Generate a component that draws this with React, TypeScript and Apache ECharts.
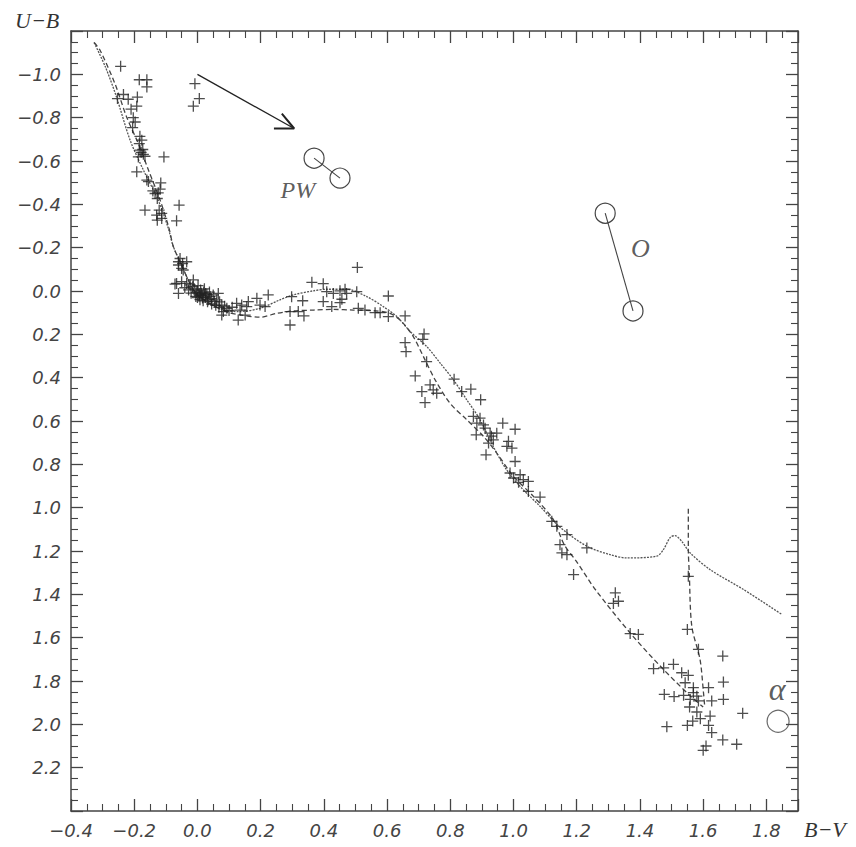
import React, { useEffect, useRef } from "react";
import * as echarts from "echarts";

// ---- data (B-V, U-B) ----
const stars: [number, number][] = [
  [-0.243, -1.037], [-0.184, -0.975], [-0.16, -0.975], [-0.16, -0.942],
  [-0.253, -0.888], [-0.234, -0.907], [-0.219, -0.885], [-0.19, -0.895],
  [-0.192, -0.853], [-0.21, -0.839], [-0.203, -0.8], [-0.197, -0.78], [-0.205, -0.754],
  [-0.182, -0.714], [-0.176, -0.696], [-0.184, -0.68],
  [-0.182, -0.65], [-0.171, -0.631], [-0.187, -0.619], [-0.173, -0.653], [-0.166, -0.622], [-0.178, -0.64],
  [-0.106, -0.619], [-0.192, -0.55], [-0.16, -0.512], [-0.155, -0.505],
  [-0.141, -0.462], [-0.124, -0.453], [-0.116, -0.499], [-0.134, -0.45], [-0.127, -0.427], [-0.118, -0.47],
  [-0.166, -0.373], [-0.129, -0.35], [-0.113, -0.335], [-0.113, -0.358], [-0.121, -0.373], [-0.127, -0.327],
  [-0.058, -0.396], [-0.066, -0.324],
  [-0.055, -0.15], [-0.047, -0.127], [-0.05, -0.104], [-0.06, -0.12],
  [-0.06, -0.135], [-0.034, -0.135], [-0.045, -0.097],
  [-0.066, -0.035], [-0.05, -0.043], [-0.034, -0.035], [-0.013, -0.051], [-0.023, -0.028], [-0.06, 0.011], [-0.071, -0.032],
  [-0.01, -0.01], [0.0, 0.0], [0.005, 0.015], [0.01, -0.005], [0.015, 0.02], [0.02, 0.005], [-0.005, 0.025],
  [0.025, 0.03], [0.008, 0.04], [0.03, 0.015], [-0.02, 0.01], [0.0, 0.03], [0.012, 0.01], [0.018, 0.045],
  [0.035, 0.04], [0.04, 0.025], [-0.015, -0.02], [0.022, -0.01],
  [-0.004, 0.008], [0.006, 0.022], [0.016, 0.032], [0.026, 0.012], [0.032, 0.05], [0.044, 0.035],
  [0.054, 0.048], [0.058, 0.066], [0.068, 0.075], [0.086, 0.07], [0.1, 0.09], [0.11, 0.075],
  [-0.028, -0.005], [-0.04, -0.015], [0.002, -0.025], [0.038, 0.005],
  [0.05, 0.018], [0.061, 0.041], [0.066, 0.011], [0.077, 0.065], [0.093, 0.08], [0.082, 0.095], [0.077, 0.111],
  [0.045, 0.06], [0.07, 0.05],
  [0.124, 0.057], [0.14, 0.065], [0.135, 0.088], [0.156, 0.072], [0.161, 0.049],
  [0.129, 0.134], [0.151, 0.111],
  [0.188, 0.034], [0.198, 0.065], [0.214, 0.072], [0.224, 0.018],
  [0.298, 0.026], [0.333, 0.045], [0.293, 0.095], [0.319, 0.095], [0.337, 0.115], [0.293, 0.157],
  [0.362, -0.04], [0.398, -0.034],
  [0.409, 0.003], [0.43, 0.011], [0.451, -0.001], [0.467, -0.008], [0.472, 0.011], [0.504, 0.003],
  [0.398, 0.049], [0.451, 0.054], [0.457, 0.038],
  [0.506, -0.109], [0.604, 0.023],
  [0.425, 0.072], [0.509, 0.08], [0.53, 0.088], [0.562, 0.1], [0.578, 0.1], [0.604, 0.118],
  [0.657, 0.115], [0.717, 0.198], [0.713, 0.223], [0.657, 0.238], [0.66, 0.28],
  [0.725, 0.326], [0.689, 0.392],
  [0.736, 0.433], [0.746, 0.456], [0.757, 0.472], [0.71, 0.464], [0.72, 0.515],
  [0.812, 0.407], [0.836, 0.464], [0.865, 0.453], [0.896, 0.502],
  [0.873, 0.579], [0.894, 0.587], [0.884, 0.61],
  [0.91, 0.633], [0.926, 0.656], [0.947, 0.656], [0.936, 0.687], [0.921, 0.702], [0.913, 0.756],
  [0.882, 0.664], [0.905, 0.618], [0.93, 0.67],
  [0.966, 0.61], [1.005, 0.638],
  [0.984, 0.694], [0.995, 0.725], [0.979, 0.717], [1.005, 0.787],
  [0.989, 0.84], [1.0, 0.863], [1.021, 0.848], [1.031, 0.871], [1.047, 0.879], [1.016, 0.883],
  [1.047, 0.925], [1.084, 0.951],
  [1.121, 1.063], [1.137, 1.086],
  [1.169, 1.124], [1.147, 1.171], [1.153, 1.209], [1.169, 1.217],
  [1.232, 1.186], [1.19, 1.309],
  [1.322, 1.393], [1.332, 1.432], [1.316, 1.442],
  [1.369, 1.581], [1.395, 1.585],
  [1.553, 1.317], [1.55, 1.562], [1.585, 1.654], [1.662, 1.685], [1.664, 1.805],
  [1.443, 1.743], [1.475, 1.739], [1.506, 1.723],
  [1.532, 1.762], [1.553, 1.774],
  [1.543, 1.808], [1.569, 1.831], [1.617, 1.831],
  [1.477, 1.862], [1.508, 1.872], [1.538, 1.866], [1.569, 1.854], [1.58, 1.87], [1.559, 1.885],
  [1.585, 1.892], [1.627, 1.892], [1.664, 1.885],
  [1.557, 1.92], [1.58, 1.943], [1.622, 1.962], [1.725, 1.949],
  [1.591, 1.974], [1.567, 1.985], [1.55, 2.005], [1.485, 2.011],
  [1.617, 2.005], [1.627, 2.038],
  [1.662, 2.072], [1.706, 2.092], [1.609, 2.1], [1.6, 2.12],
  [-0.008, -0.957], [0.006, -0.888], [-0.013, -0.853],
];

const solidSequence: [number, number][] = [
  [-0.327, -1.147], [-0.29, -1.03], [-0.256, -0.895], [-0.213, -0.696], [-0.171, -0.558],
  [-0.124, -0.419], [-0.092, -0.289], [-0.076, -0.204], [-0.05, -0.12], [-0.034, -0.066],
  [-0.01, 0.0], [0.02, 0.04], [0.05, 0.065], [0.087, 0.088], [0.13, 0.095], [0.198, 0.08],
  [0.261, 0.041], [0.304, 0.018], [0.367, -0.001], [0.409, -0.008], [0.472, -0.008],
  [0.536, 0.026], [0.588, 0.072], [0.631, 0.118], [0.673, 0.187], [0.726, 0.257],
  [0.768, 0.333], [0.81, 0.41], [0.852, 0.502], [0.894, 0.594], [0.936, 0.718],
  [0.978, 0.825], [1.021, 0.902], [1.084, 0.994], [1.147, 1.09], [1.232, 1.178],
  [1.306, 1.217], [1.358, 1.232], [1.453, 1.224], [1.474, 1.194], [1.496, 1.137],
  [1.511, 1.129], [1.532, 1.155], [1.559, 1.209], [1.622, 1.286], [1.728, 1.378], [1.849, 1.493],
];

const dashedSequence: [number, number][] = [
  [-0.327, -1.147], [-0.308, -1.111], [-0.261, -0.957], [-0.224, -0.803], [-0.187, -0.68],
  [-0.155, -0.558], [-0.118, -0.419], [-0.09, -0.29], [-0.076, -0.204], [-0.05, -0.12],
  [-0.034, -0.066], [-0.01, 0.0], [0.02, 0.04], [0.06, 0.075], [0.1, 0.1], [0.135, 0.11],
  [0.198, 0.121], [0.251, 0.103], [0.304, 0.092], [0.367, 0.088], [0.43, 0.085],
  [0.493, 0.088], [0.557, 0.091], [0.609, 0.103], [0.646, 0.141], [0.683, 0.211],
  [0.715, 0.303], [0.752, 0.41], [0.799, 0.518], [0.852, 0.594], [0.905, 0.671],
  [0.947, 0.748], [1.0, 0.856], [1.063, 0.948], [1.126, 1.055], [1.16, 1.17],
  [1.2, 1.25], [1.26, 1.38], [1.37, 1.58], [1.47, 1.74], [1.56, 1.87], [1.6, 1.92],
];

const giantBranch: [number, number][] = [
  [1.553, 1.005], [1.553, 1.19], [1.556, 1.3], [1.564, 1.547], [1.59, 1.7], [1.601, 1.854], [1.605, 1.92],
];

const reddeningArrow: [number, number][] = [[0.0, -1.0], [0.306, -0.75]];
const arrowHead: [number, number][] = [[0.242, -0.75], [0.306, -0.75], [0.267, -0.819]];

const pwPoints: [number, number][] = [[0.369, -0.613], [0.451, -0.521]];
const oPoints: [number, number][] = [[1.29, -0.359], [1.378, 0.092]];
const alphaPoint: [number, number][] = [[1.837, 1.986]];

const annotationNames = ["PW", "O", "α"];
const annotationPos: [number, number][] = [[0.318, -0.465], [1.401, -0.198], [1.834, 1.839]];
const annotationSize = [24, 26, 32];

const X_MIN = -0.4, X_MAX = 1.9, Y_MIN = -1.2, Y_MAX = 2.4, STEP = 0.2;

function fmt(v: number, hide: number[]): string {
  const r = Math.round(v * 10) / 10;
  for (const h of hide) if (Math.abs(r - h) < 1e-6) return "";
  const s = (Math.abs(r) < 1e-9 ? 0 : r).toFixed(1);
  return s.replace("-", "\u2212");
}

const AX = "#444";
const INK = "#222";

export default function App() {
  const ref = useRef<HTMLDivElement>(null);
  useEffect(() => {
    if (!ref.current) return;
    const chart = echarts.init(ref.current, null, { renderer: "svg" });
    const labelFont = {
      fontFamily: "DejaVu Sans",
      fontStyle: "oblique" as const,
      fontSize: 18,
      color: "#444",
    };
    const tick = { show: true, inside: true, length: 12, lineStyle: { color: AX, width: 1.3 } };
    const minor = { show: true, splitNumber: 4, length: 7, lineStyle: { color: AX, width: 1.1 } };
    const axisLine = { show: true, onZero: false, lineStyle: { color: AX, width: 1.5 } };
    const crossPath = "path://M5,0 L5,10 M0,5 L10,5";

    chart.setOption({
      animation: false,
      backgroundColor: "#fff",
      grid: { left: 71, top: 31, right: 58, bottom: 36, containLabel: false },
      xAxis: [
        {
          type: "value", min: X_MIN, max: X_MAX, interval: STEP, position: "bottom",
          axisLine, axisTick: tick, minorTick: minor, splitLine: { show: false },
          axisLabel: { ...labelFont, margin: 10, formatter: (v: number) => fmt(v, [1.9]) },
        },
        {
          type: "value", min: X_MIN, max: X_MAX, interval: STEP, position: "top",
          axisLine, axisTick: tick, minorTick: minor, splitLine: { show: false },
          axisLabel: { show: false },
        },
      ],
      yAxis: [
        {
          type: "value", min: Y_MIN, max: Y_MAX, interval: STEP, inverse: true, position: "left",
          axisLine, axisTick: tick, minorTick: minor, splitLine: { show: false },
          axisLabel: { ...labelFont, margin: 10, formatter: (v: number) => fmt(v, [-1.2, 2.4]) },
        },
        {
          type: "value", min: Y_MIN, max: Y_MAX, interval: STEP, inverse: true, position: "right",
          axisLine, axisTick: tick, minorTick: minor, splitLine: { show: false },
          axisLabel: { show: false },
        },
      ],
      graphic: [
        {
          type: "text", left: 15, top: 9,
          style: { text: "U\u2212B", font: "italic 22px 'Liberation Serif'", fill: "#333" },
        },
        {
          type: "text", left: 804, top: 818,
          style: { text: "B\u2212V", font: "italic 22px 'Liberation Serif'", fill: "#333" },
        },
      ],
      series: [
        {
          type: "line", data: solidSequence, showSymbol: false, symbol: "none", smooth: 0.3,
          lineStyle: { color: "#555", width: 1.3, type: [2, 1.2] }, z: 2,
        },
        {
          type: "line", data: dashedSequence, showSymbol: false, symbol: "none", smooth: 0.3,
          lineStyle: { color: "#444", width: 1.3, type: [5, 3] }, z: 2,
        },
        {
          type: "line", data: giantBranch, showSymbol: false, symbol: "none", smooth: 0.3,
          lineStyle: { color: "#444", width: 1.3, type: [5, 3] }, z: 2,
        },
        {
          type: "line", data: reddeningArrow, showSymbol: false, symbol: "none",
          lineStyle: { color: INK, width: 1.3 }, z: 3,
        },
        {
          type: "line", data: arrowHead, showSymbol: false, symbol: "none",
          lineStyle: { color: INK, width: 2 }, z: 3,
        },
        {
          type: "line", data: pwPoints, symbol: "circle", symbolSize: 20, showSymbol: true,
          lineStyle: { color: "#444", width: 1.1 },
          itemStyle: { color: "rgba(0,0,0,0)", borderColor: "#444", borderWidth: 1.2 }, z: 3,
        },
        {
          type: "line", data: oPoints, symbol: "circle", symbolSize: 20, showSymbol: true,
          lineStyle: { color: "#444", width: 1.1 },
          itemStyle: { color: "rgba(0,0,0,0)", borderColor: "#444", borderWidth: 1.2 }, z: 3,
        },
        {
          type: "scatter", data: alphaPoint, symbol: "circle", symbolSize: 22,
          itemStyle: { color: "rgba(0,0,0,0)", borderColor: "#444", borderWidth: 1.2 }, z: 3,
        },
        {
          type: "scatter", data: stars, symbol: crossPath, symbolSize: 11,
          itemStyle: { color: "rgba(0,0,0,0)", borderColor: INK, borderWidth: 1.3 }, z: 4,
        },
        {
          type: "scatter",
          data: annotationPos.map((p, i) => ({
            value: p,
            label: {
              show: true, position: "inside", formatter: annotationNames[i],
              fontFamily: "Liberation Serif", fontStyle: "italic", fontSize: annotationSize[i], color: "#333",
            },
          })),
          symbolSize: 1,
          itemStyle: { color: "rgba(0,0,0,0)" },
          z: 5,
        },
      ],
    });
    return () => chart.dispose();
  }, []);
  return (
    <div
      ref={ref}
      style={{ position: "fixed", left: 0, top: 0, width: 856, height: 847, background: "#fff" }}
    />
  );
}
